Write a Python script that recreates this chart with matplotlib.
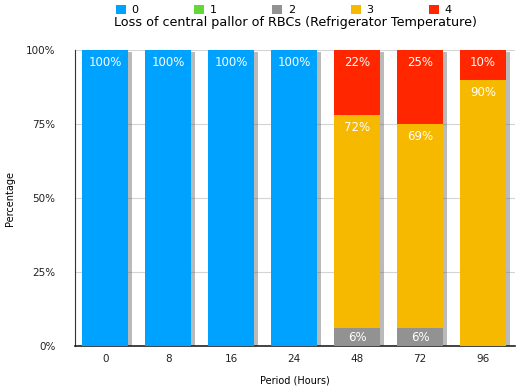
import matplotlib.pyplot as plt
import matplotlib.patheffects as pe
import numpy as np

periods = ["0", "8", "16", "24", "48", "72", "96"]
grades = ["0", "1", "2", "3", "4"]
grade_0 = [100, 100, 100, 100, 0, 0, 0]
grade_1 = [0, 0, 0, 0, 0, 0, 0]
grade_2 = [0, 0, 0, 0, 6, 6, 0]
grade_3 = [0, 0, 0, 0, 72, 69, 90]
grade_4 = [0, 0, 0, 0, 22, 25, 10]
colors = ["#00A2FF", "#61D836", "#929292", "#F6B900", "#FF2600"]

fig = plt.figure(figsize=(5.16, 3.90), dpi=100)
ax = fig.add_axes([0.1453, 0.1128, 0.853, 0.759])

x = np.arange(len(periods))
all_series = [grade_0, grade_1, grade_2, grade_3, grade_4]
totals = np.sum(np.array(all_series, dtype=float), axis=0)

# soft drop shadow behind each full stack
shadow_bars = ax.bar(x, totals, width=0.73, color="none", zorder=2)
for b in shadow_bars:
    b.set_path_effects([pe.SimplePatchShadow(offset=(3, -1.5), shadow_rgbFace="#666666", alpha=0.45)])

bottom = np.zeros(len(periods))
for series, name, c in zip(all_series, grades, colors):
    vals = np.array(series, dtype=float)
    ax.bar(x, vals, bottom=bottom, width=0.73, color=c, label=name, zorder=3)
    for i, v in enumerate(vals):
        if v <= 0:
            continue
        if v < 10:
            ypos = bottom[i] + v / 2
            va = "center"
        else:
            ypos = bottom[i] + v - 2
            va = "top"
        ax.text(x[i], ypos, f"{int(v)}%", ha="center", va=va, color="white",
                fontsize=8.5, zorder=5)
    bottom += vals

ax.set_xlim(-0.48, 6.51)
ax.set_ylim(0, 100)
ax.set_yticks([0, 25, 50, 75, 100])
ax.set_yticklabels(["0%", "25%", "50%", "75%", "100%"])
ax.set_xticks(x)
ax.set_xticklabels(periods)
ax.tick_params(axis="both", length=0, labelsize=7.5, colors="#222222")
ax.tick_params(axis="y", pad=14)
ax.tick_params(axis="x", pad=6)
ax.yaxis.grid(True, color="#d4d4d4", linewidth=0.8, zorder=0)
for s in ["top", "right"]:
    ax.spines[s].set_visible(False)
ax.spines["left"].set_color("#333333")
ax.spines["bottom"].set_color("#222222")
ax.spines["bottom"].set_linewidth(1.2)

ax.set_ylabel("Percentage", fontsize=7, labelpad=8)
ax.set_xlabel("Period (Hours)", fontsize=7, labelpad=8)
fig.text(0.573, 0.942, "Loss of central pallor of RBCs (Refrigerator Temperature)",
         ha="center", va="center", fontsize=9.2)

fig.legend(loc="center", bbox_to_anchor=(0.55, 0.975), ncol=5, frameon=False,
           fontsize=8, handlelength=0.9, handleheight=0.9, handletextpad=0.5,
           columnspacing=5.0, borderpad=0)

fig.savefig("out.png", dpi=100)
